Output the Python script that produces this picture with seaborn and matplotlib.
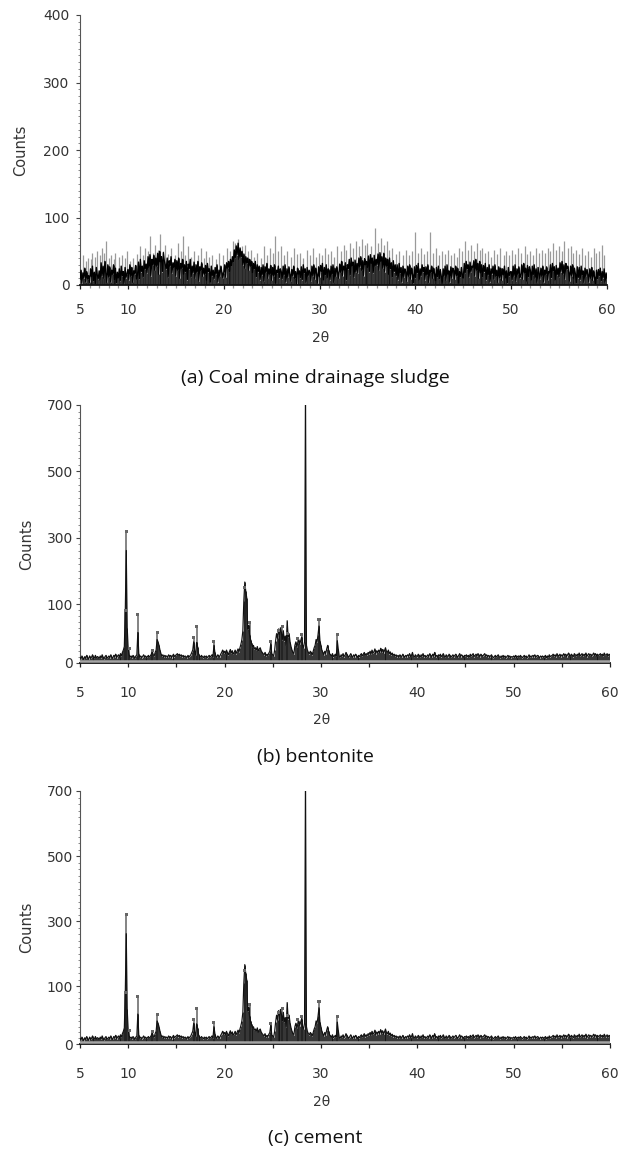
import numpy as np
import pandas as pd
import matplotlib
matplotlib.use("Agg")
import matplotlib.pyplot as plt
import seaborn as sns
from matplotlib.ticker import FixedLocator, MultipleLocator

# ---------------- data ----------------
theta_start, theta_step, theta_end = 5.0, 0.1, 60.0
theta = np.round(np.arange(theta_start, theta_end + theta_step / 2, theta_step), 1)

# (a) coal mine drainage sludge: black trace, one row per degree (x.0 .. x.9)
counts_a = [
    8, 22, 3, 18, 11, 25, 5, 20, 9, 14,
    4, 24, 12, 28, 6, 19, 2, 26, 15, 9,
    21, 7, 33, 14, 28, 10, 35, 18, 4, 30,
    12, 27, 5, 22, 16, 30, 8, 25, 3, 19,
    10, 24, 6, 28, 14, 20, 2, 26, 11, 17,
    23, 8, 30, 13, 26, 4, 21, 17, 29, 9,
    15, 34, 9, 38, 20, 28, 12, 36, 24, 31,
    18, 42, 26, 45, 14, 38, 30, 44, 22, 40,
    28, 47, 16, 50, 34, 42, 20, 48, 36, 30,
    24, 40, 12, 36, 28, 42, 18, 33, 26, 38,
    14, 36, 22, 40, 10, 32, 25, 38, 16, 30,
    20, 35, 8, 31, 24, 38, 12, 28, 18, 34,
    10, 30, 19, 35, 6, 27, 22, 33, 13, 25,
    16, 29, 7, 32, 20, 24, 4, 28, 14, 22,
    9, 26, 17, 30, 5, 22, 13, 28, 19, 11,
    18, 30, 12, 33, 25, 35, 20, 38, 28, 42,
    34, 52, 40, 58, 45, 62, 38, 55, 42, 50,
    30, 46, 25, 42, 33, 40, 22, 38, 28, 35,
    18, 32, 24, 35, 12, 30, 20, 28, 8, 26,
    15, 30, 6, 27, 19, 32, 10, 24, 16, 29,
    7, 26, 14, 30, 3, 22, 18, 28, 11, 24,
    20, 9, 28, 15, 30, 5, 24, 12, 27, 17,
    6, 23, 14, 28, 10, 20, 2, 25, 16, 21,
    11, 27, 8, 30, 18, 24, 4, 26, 13, 22,
    19, 6, 28, 14, 30, 9, 25, 17, 3, 27,
    12, 29, 20, 32, 7, 26, 15, 30, 10, 24,
    22, 8, 28, 16, 30, 4, 25, 13, 27, 18,
    10, 31, 19, 35, 14, 28, 22, 33, 8, 30,
    24, 38, 15, 40, 28, 34, 12, 37, 20, 32,
    18, 40, 27, 42, 22, 36, 14, 39, 30, 35,
    26, 43, 20, 45, 32, 40, 18, 44, 28, 38,
    30, 46, 22, 48, 35, 42, 25, 47, 20, 40,
    28, 38, 16, 40, 24, 33, 12, 36, 20, 30,
    14, 30, 8, 32, 18, 26, 5, 28, 12, 24,
    20, 6, 28, 13, 30, 9, 25, 16, 3, 27,
    11, 29, 18, 32, 7, 24, 14, 30, 20, 26,
    8, 27, 15, 30, 4, 22, 19, 28, 10, 25,
    17, 6, 26, 12, 28, 9, 23, 14, 2, 24,
    13, 28, 7, 30, 16, 21, 5, 27, 11, 25,
    22, 9, 28, 14, 25, 3, 20, 12, 26, 15,
    10, 32, 18, 35, 24, 30, 12, 34, 20, 28,
    26, 36, 14, 38, 22, 32, 10, 35, 18, 30,
    12, 29, 20, 32, 8, 26, 15, 30, 5, 24,
    17, 28, 9, 30, 13, 22, 4, 27, 11, 25,
    7, 24, 15, 28, 10, 21, 3, 26, 14, 19,
    20, 8, 28, 13, 30, 6, 24, 16, 27, 11,
    14, 30, 9, 32, 18, 25, 6, 29, 12, 27,
    22, 7, 28, 15, 30, 10, 24, 4, 26, 17,
    9, 25, 13, 28, 5, 22, 16, 27, 8, 20,
    18, 30, 11, 32, 21, 27, 7, 29, 15, 25,
    12, 33, 20, 35, 16, 30, 9, 32, 24, 28,
    19, 6, 28, 14, 30, 10, 25, 17, 3, 27,
    11, 26, 8, 28, 15, 21, 4, 25, 13, 23,
    16, 5, 24, 10, 26, 7, 21, 12, 2, 22,
    9, 23, 14, 25, 6, 20, 11, 24, 4, 18,
    10,
]
# (a) lighter grey spikes rising above the black band
spikes_a_x = [5.3, 5.6, 5.8, 6.1, 6.3, 6.6, 6.8, 7.1, 7.3, 7.5, 7.7, 8.0, 8.2,
              8.5, 8.7, 9.1, 9.4, 9.7, 9.9, 10.2, 10.5, 10.9, 11.3, 11.6, 11.8,
              12.1, 12.3, 12.6, 12.8, 13.1, 13.4, 13.7, 13.9, 14.2, 14.5, 14.9,
              15.2, 15.5, 15.7, 16.0, 16.3, 16.6, 16.9, 17.3, 17.6, 17.9, 18.2,
              18.5, 18.8, 19.2, 19.5, 19.9, 20.3, 20.7, 21.0, 21.2, 21.5, 21.9,
              22.2, 22.5, 22.8, 23.2, 23.5, 23.9, 24.2, 24.5, 24.8, 25.1, 25.4,
              25.7, 26.0, 26.3, 26.6, 27.0, 27.3, 27.6, 28.0, 28.3, 28.7, 29.0,
              29.3, 29.6, 29.9, 30.3, 30.6, 30.9, 31.2, 31.5, 31.8, 32.2, 32.5,
              32.8, 33.2, 33.5, 33.8, 34.1, 34.4, 34.7, 35.0, 35.4, 35.8, 36.1,
              36.4, 36.7, 37.0, 37.3, 37.6, 38.0, 38.3, 38.7, 39.0, 39.3, 39.6,
              40.0, 40.3, 40.6, 40.9, 41.2, 41.5, 41.8, 42.2, 42.5, 42.8, 43.1,
              43.4, 43.7, 44.0, 44.3, 44.6, 44.9, 45.2, 45.5, 45.8, 46.1, 46.4,
              46.7, 47.0, 47.3, 47.6, 47.9, 48.2, 48.5, 48.8, 49.2, 49.5, 49.8,
              50.1, 50.4, 50.7, 51.0, 51.4, 51.7, 52.0, 52.3, 52.6, 52.9, 53.2,
              53.5, 53.8, 54.1, 54.4, 54.7, 55.0, 55.3, 55.5, 55.9, 56.2, 56.5,
              56.8, 57.1, 57.4, 57.7, 58.0, 58.3, 58.6, 58.9, 59.2, 59.5, 59.7]
spikes_a_y = [45, 35, 40, 38, 48, 42, 50, 44, 55, 48, 65, 40, 45,
              38, 48, 42, 45, 40, 50, 36, 40, 46, 58, 44, 55,
              50, 72, 48, 60, 52, 75, 50, 60, 46, 55, 44,
              62, 50, 72, 45, 58, 42, 50, 44, 55, 40, 50,
              42, 45, 38, 48, 44, 55, 50, 65, 62, 68, 58,
              60, 50, 52, 42, 48, 40, 58, 45, 55, 48, 72,
              50, 58, 44, 50, 42, 55, 46, 48, 40, 52, 45,
              55, 42, 48, 44, 55, 46, 50, 42, 58, 50, 60,
              52, 62, 55, 65, 58, 68, 60, 62, 58, 85, 62,
              70, 60, 65, 52, 55, 46, 50, 44, 52, 45, 50,
              78, 48, 55, 46, 50, 78, 48, 55, 44, 50, 46,
              52, 45, 48, 42, 55, 50, 65, 52, 60, 50, 62,
              52, 55, 48, 50, 42, 52, 46, 55, 44, 50, 45,
              52, 46, 55, 48, 58, 46, 50, 44, 55, 48, 52,
              48, 55, 50, 62, 52, 58, 50, 65, 55, 58, 48,
              52, 46, 55, 44, 50, 42, 55, 48, 50, 60, 45]

# (b) bentonite: black trace, one row per degree (x.0 .. x.9)
counts_b = [
    10, 7, 12, 9, 6, 11, 8, 13, 9, 7,
    12, 8, 10, 14, 7, 9, 13, 8, 11, 10,
    8, 12, 9, 14, 10, 7, 11, 13, 8, 10,
    12, 9, 14, 10, 8, 13, 11, 15, 9, 12,
    14, 10, 16, 12, 18, 22, 28, 90, 262, 60,
    24, 14, 10, 12, 9, 13, 11, 8, 12, 14,
    52, 16, 10, 12, 9, 11, 14, 10, 12, 9,
    11, 13, 10, 12, 15, 20, 14, 12, 18, 22,
    40, 36, 30, 22, 16, 12, 14, 10, 13, 11,
    12, 10, 14, 11, 13, 9, 12, 15, 11, 13,
    14, 16, 13, 15, 12, 14, 11, 13, 10, 12,
    11, 9, 13, 10, 12, 14, 18, 22, 36, 20,
    14, 35, 28, 16, 12, 10, 13, 11, 9, 12,
    10, 12, 9, 11, 13, 10, 12, 14, 11, 30,
    18, 12, 10, 14, 12, 11, 15, 18, 22, 17,
    20, 16, 22, 18, 14, 19, 23, 17, 21, 15,
    18, 22, 16, 20, 24, 19, 26, 32, 40, 55,
    110, 167, 140, 120, 58, 64, 48, 40, 34, 28,
    30, 24, 26, 22, 28, 20, 24, 26, 21, 18,
    16, 14, 18, 12, 15, 13, 17, 20, 33, 16,
    14, 12, 22, 38, 50, 42, 58, 48, 60, 52,
    40, 55, 38, 46, 30, 72, 44, 50, 36, 28,
    22, 18, 16, 30, 36, 28, 34, 40, 32, 38,
    44, 30, 26, 36, 760, 30, 22, 18, 16, 20,
    18, 14, 20, 26, 30, 40, 36, 48, 63, 38,
    30, 22, 18, 14, 20, 16, 24, 30, 22, 16,
    14, 12, 16, 11, 13, 15, 12, 38, 24, 12,
    10, 14, 12, 16, 11, 13, 18, 15, 12, 10,
    13, 16, 12, 10, 14, 11, 15, 12, 10, 13,
    11, 14, 16, 12, 15, 18, 13, 16, 14, 18,
    16, 20, 15, 22, 17, 19, 24, 16, 21, 18,
    22, 18, 25, 19, 23, 17, 21, 26, 20, 18,
    22, 16, 19, 14, 17, 13, 15, 12, 14, 11,
    13, 10, 14, 12, 11, 15, 12, 10, 13, 11,
    14, 12, 16, 11, 13, 18, 12, 10, 14, 12,
    11, 15, 13, 10, 14, 12, 16, 11, 13, 10,
    12, 14, 11, 16, 13, 10, 15, 12, 18, 11,
    13, 10, 14, 12, 15, 11, 13, 16, 12, 10,
    14, 12, 11, 15, 13, 10, 12, 14, 11, 13,
    15, 12, 10, 13, 16, 11, 14, 12, 10, 13,
    12, 14, 11, 13, 10, 15, 12, 14, 16, 11,
    13, 15, 12, 16, 14, 11, 15, 13, 12, 14,
    16, 12, 14, 11, 13, 10, 12, 14, 11, 9,
    11, 13, 10, 12, 14, 11, 9, 12, 10, 13,
    10, 12, 9, 11, 13, 10, 12, 9, 11, 10,
    12, 10, 13, 9, 11, 12, 10, 13, 11, 9,
    11, 13, 10, 12, 9, 11, 14, 10, 12, 11,
    13, 11, 14, 10, 12, 13, 11, 9, 12, 10,
    12, 10, 11, 13, 9, 12, 10, 14, 11, 12,
    13, 15, 12, 14, 11, 16, 13, 12, 15, 11,
    14, 12, 16, 13, 15, 11, 14, 17, 12, 13,
    15, 13, 11, 16, 14, 12, 15, 13, 17, 12,
    14, 16, 12, 15, 13, 17, 11, 14, 16, 13,
    15, 12, 14, 17, 13, 16, 12, 15, 13, 14,
    16, 13, 15, 12, 17, 14, 13, 16, 12, 15,
    14,
]
# (b) grey reference sticks with their small peak marks
sticks_b_x = [9.7, 9.8, 10.1, 11.0, 12.5, 13.0, 16.8, 17.1, 18.9, 22.1, 22.6,
              24.8, 25.6, 26.0, 26.5, 27.6, 28.0, 29.8, 31.7]
sticks_b_y = [90, 320, 24, 83, 22, 52, 43, 62, 37, 150, 69,
              36, 55, 62, 50, 42, 48, 74, 48]
base_b_x = [5, 20, 35, 60]
base_b_y = [3, 3, 3, 3]

# (c) cement: the source figure shows the same pattern as panel (b)
counts_c = list(counts_b)
sticks_c_x = list(sticks_b_x)
sticks_c_y = list(sticks_b_y)
base_c_x = list(base_b_x)
base_c_y = list(base_b_y)

titles = ["(a) Coal mine drainage sludge", "(b) bentonite", "(c) cement"]
xticks = [5, 10, 20, 30, 40, 50, 60]
yticks_a = [0, 100, 200, 300, 400]
yticks_bc = [0, 100, 300, 500, 700]

# ---------------- figure ----------------
sns.set_theme(style="ticks")
plt.rcParams["font.family"] = ["DejaVu Sans"]

W, H = 626, 1149
fig = plt.figure(figsize=(W / 100, H / 100), dpi=100)


def frac(left, top, right, bottom):
    return [left / W, 1 - bottom / H, (right - left) / W, (bottom - top) / H]


ax_a = fig.add_axes(frac(80, 15, 607, 285))
ax_b = fig.add_axes(frac(80, 405, 610, 663))
ax_c = fig.add_axes(frac(80, 791, 610, 1044))


# axis of panels (b),(c): labels 0,100,300,500,700 evenly spaced
def fwd(v):
    v = np.asarray(v, dtype=float)
    return np.where(v <= 100, v * 0.58, 58 + (v - 100) * 0.328)


def inv(p):
    p = np.asarray(p, dtype=float)
    return np.where(p <= 58, p / 0.58, 100 + (p - 58) / 0.328)


def common_style(ax, xpad, ypad):
    sns.despine(ax=ax)
    ax.spines["left"].set_color("#555555")
    ax.spines["left"].set_linewidth(0.8)
    ax.spines["bottom"].set_color("#111111")
    ax.spines["bottom"].set_linewidth(1.3)
    ax.set_xlim(5, 60)
    ax.set_xticks(xticks)
    ax.xaxis.set_minor_locator(MultipleLocator(5))
    ax.tick_params(axis="x", which="both", direction="out", length=2.8,
                   width=0.9, color="#222222")
    ax.tick_params(axis="x", which="major", labelsize=10, labelcolor="#333333",
                   pad=xpad)
    ax.tick_params(axis="y", which="major", direction="out", length=2.8,
                   width=0.8, color="#444444", labelsize=10,
                   labelcolor="#333333", pad=ypad)
    ax.tick_params(axis="y", which="minor", direction="out", length=1.8,
                   width=0.6, color="#777777")
    ax.set_facecolor("white")
    ax.grid(False)


# ---- panel (a)
df_a = pd.DataFrame({"2θ": theta, "Counts": counts_a})
ax_a.vlines(spikes_a_x, 0, spikes_a_y, color="#9a9a9a", lw=0.9, zorder=1)
ax_a.vlines(df_a["2θ"], 0, df_a["Counts"], color="#111111", lw=0.6, zorder=2)
sns.lineplot(data=df_a, x="2θ", y="Counts", ax=ax_a, color="#000000",
             lw=0.95, estimator=None, zorder=3)
common_style(ax_a, xpad=10.5, ypad=4.8)
ax_a.xaxis.set_minor_locator(MultipleLocator(1))
ax_a.tick_params(axis="x", which="minor", length=2.2, color="#999999")
ax_a.set_ylim(0, 400)
ax_a.set_yticks(yticks_a)
ax_a.yaxis.set_minor_locator(MultipleLocator(10))
ax_a.set_xlabel("2θ", fontsize=10, color="#333333")
ax_a.set_ylabel("Counts", fontsize=10.5, color="#333333")
ax_a.xaxis.set_label_coords(0.457, -0.17)
ax_a.yaxis.set_label_coords(-0.099, 0.5)


# ---- panels (b) and (c)
def xrd_panel(ax, counts, sx, sy, bx, by, xlab_y):
    df = pd.DataFrame({"2θ": theta, "Counts": counts})
    ax.set_yscale("function", functions=(fwd, inv))
    ax.vlines(sx, 0, sy, color="#7a7a7a", lw=1.3, zorder=1)
    ax.vlines(df["2θ"], 0, df["Counts"], color="#111111", lw=0.6, zorder=2)
    sns.lineplot(data=df, x="2θ", y="Counts", ax=ax, color="#111111",
                 lw=0.85, estimator=None, zorder=3)
    ax.plot(bx, by, color="#a5a5a5", lw=1.8, zorder=4)
    sns.scatterplot(x=sx, y=sy, ax=ax, marker="s", s=5, color="#666666",
                    edgecolor="none", zorder=5)
    common_style(ax, xpad=13.5, ypad=2.2)
    ax.set_ylim(0, 700)
    ax.set_yticks(yticks_bc)
    ax.set_yticklabels([str(t) for t in yticks_bc])
    ax.yaxis.set_minor_locator(FixedLocator(list(range(0, 100, 10)) +
                                            list(range(100, 701, 20))))
    ax.set_xlabel("2θ", fontsize=10, color="#333333")
    ax.set_ylabel("Counts", fontsize=10.5, color="#333333")
    ax.xaxis.set_label_coords(0.455, xlab_y)
    ax.yaxis.set_label_coords(-0.087, 0.46)


xrd_panel(ax_b, counts_b, sticks_b_x, sticks_b_y, base_b_x, base_b_y, -0.194)
xrd_panel(ax_c, counts_c, sticks_c_x, sticks_c_y, base_c_x, base_c_y, -0.2)

# ---- captions
cap_font = ["Open Sans", "DejaVu Sans"]
for title, ycen in zip(titles, [378, 757, 1138]):
    fig.text(315 / W, 1 - ycen / H, title, ha="center", va="center",
             fontsize=14, color="#111111", family=cap_font)

fig.savefig("out.png", dpi=100, facecolor="white")
